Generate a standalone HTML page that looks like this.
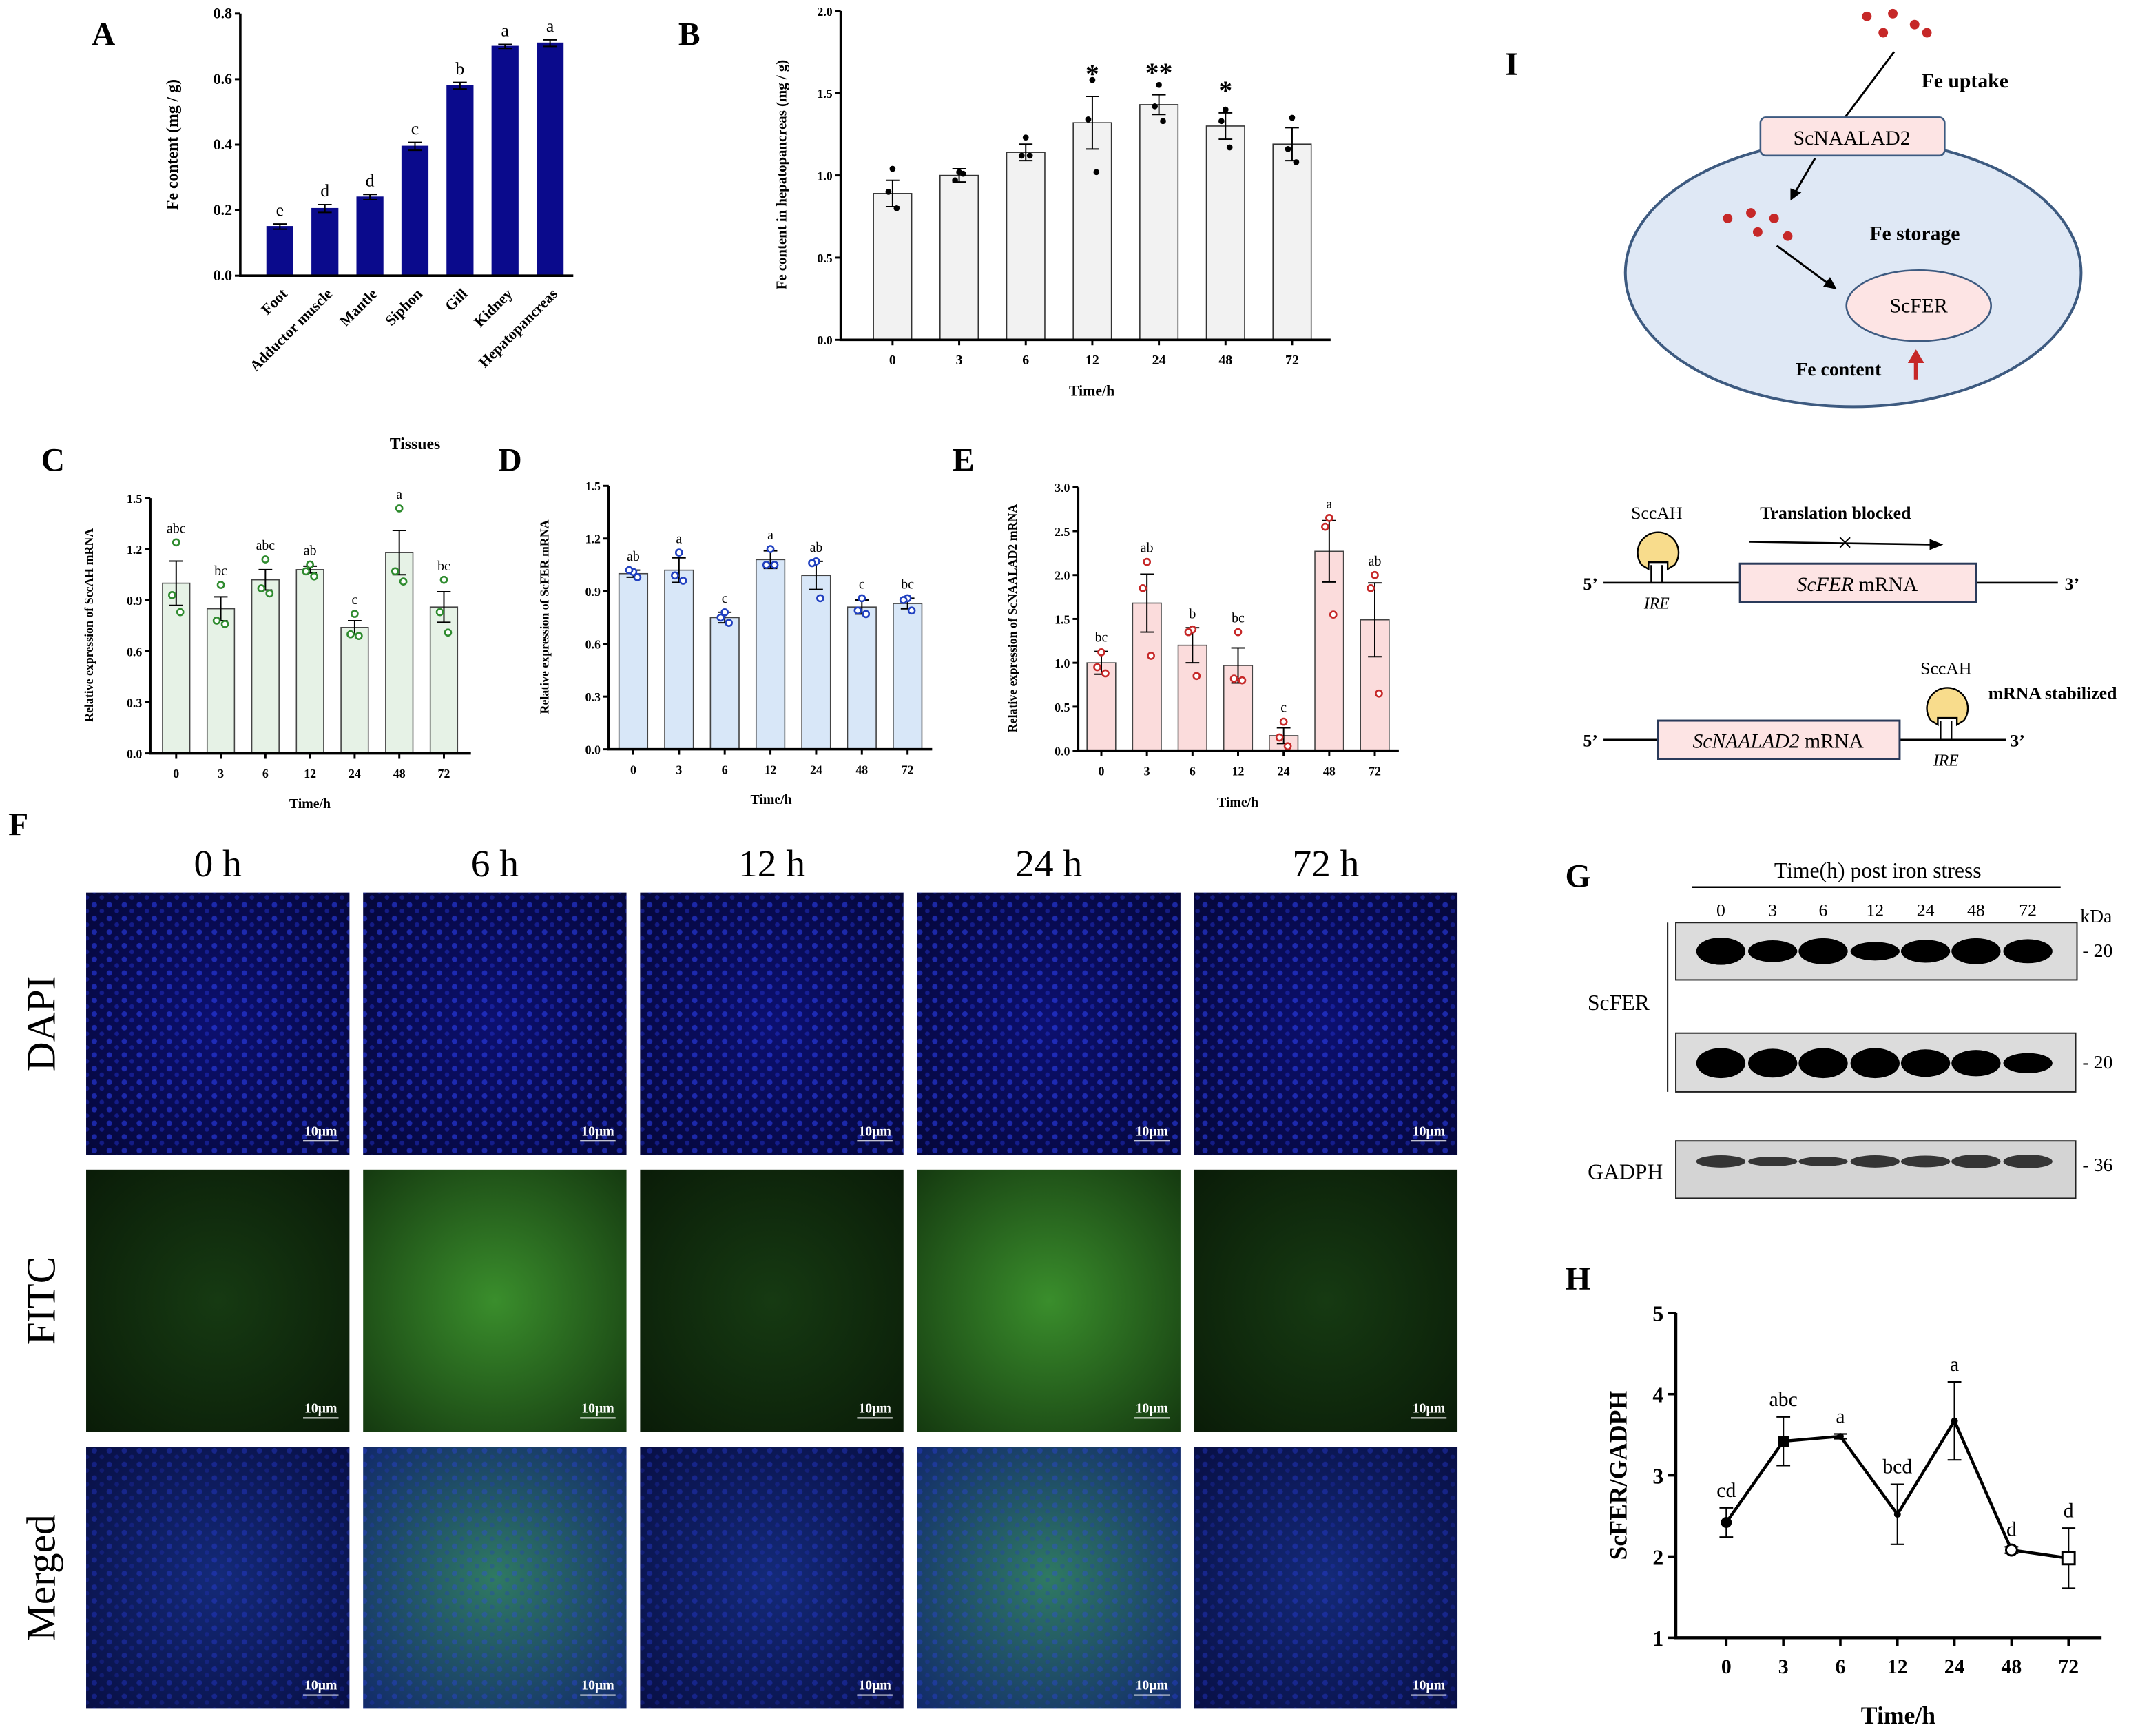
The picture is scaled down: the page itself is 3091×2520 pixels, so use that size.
<!DOCTYPE html>
<html><head><meta charset="utf-8"><style>
html,body{margin:0;padding:0;background:#fff}
svg{display:block}
text{font-family:"Liberation Serif",serif}
</style></head><body>
<svg id="fig" width="3091" height="2520" viewBox="0 0 1560 1272" xmlns="http://www.w3.org/2000/svg">
<defs>
<radialGradient id="gDapi" cx="50%" cy="50%" r="70%"><stop offset="0" stop-color="#0c1070"/><stop offset="1" stop-color="#05073a"/></radialGradient>
<radialGradient id="gFitcLo" cx="50%" cy="50%" r="70%"><stop offset="0" stop-color="#163a12"/><stop offset="1" stop-color="#0a1c08"/></radialGradient>
<radialGradient id="gFitcHi" cx="50%" cy="50%" r="70%"><stop offset="0" stop-color="#3a8e2c"/><stop offset="1" stop-color="#153a10"/></radialGradient>
<radialGradient id="gMergeLo" cx="50%" cy="50%" r="70%"><stop offset="0" stop-color="#142a78"/><stop offset="1" stop-color="#080f45"/></radialGradient>
<radialGradient id="gMergeHi" cx="50%" cy="50%" r="70%"><stop offset="0" stop-color="#2f7a62"/><stop offset="1" stop-color="#122a6a"/></radialGradient>
<pattern id="nuc" width="11" height="10" patternUnits="userSpaceOnUse"><circle cx="3" cy="3" r="2" fill="#2f44ff" opacity="0.7"/><circle cx="8.5" cy="7.5" r="1.7" fill="#2434d8" opacity="0.6"/></pattern>
</defs>

<text x="67" y="33" font-size="24" font-weight="bold">A</text>
<text x="497" y="33" font-size="24" font-weight="bold">B</text>
<text x="30" y="345" font-size="24" font-weight="bold">C</text>
<text x="365" y="345" font-size="24" font-weight="bold">D</text>
<text x="698" y="345" font-size="24" font-weight="bold">E</text>
<text x="6" y="612" font-size="24" font-weight="bold">F</text>
<text x="1147" y="650" font-size="24" font-weight="bold">G</text>
<text x="1147" y="945" font-size="24" font-weight="bold">H</text>
<text x="1103" y="55" font-size="24" font-weight="bold">I</text>

<g id="charts"></g>

<g id="micro"></g>

<g>
<text x="1376" y="643" font-size="16" text-anchor="middle">Time(h) post iron stress</text>
<line x1="1240" y1="650" x2="1510" y2="650" stroke="#000" stroke-width="1.3"/>
<g font-size="13" text-anchor="middle">
<text x="1261" y="671">0</text><text x="1299" y="671">3</text><text x="1336" y="671">6</text><text x="1374" y="671">12</text><text x="1411" y="671">24</text><text x="1448" y="671">48</text><text x="1486" y="671">72</text>
</g>
<text x="1536" y="676" font-size="14" text-anchor="middle">kDa</text>
<line x1="1222" y1="676" x2="1222" y2="800" stroke="#000" stroke-width="1"/>
<text x="1186" y="740" font-size="16" text-anchor="middle">ScFER</text>
<text x="1191" y="864" font-size="16" text-anchor="middle">GADPH</text>
<rect x="1228" y="676" width="294" height="42" fill="#dcdcdc" stroke="#222" stroke-width="1"/>
<rect x="1228" y="757" width="293" height="43" fill="#dcdcdc" stroke="#222" stroke-width="1"/>
<rect x="1228" y="836" width="293" height="42" fill="#d4d4d4" stroke="#222" stroke-width="1"/>
<g id="bands"></g>
<g font-size="14"><text x="1526" y="701">- 20</text><text x="1526" y="783">- 20</text><text x="1526" y="858">- 36</text></g>
</g>

<g>
<ellipse cx="1358" cy="200" rx="167" ry="98" fill="#dfe8f5" stroke="#3d5a80" stroke-width="2"/>
<g fill="#c62828"><circle cx="1368" cy="12" r="3.5"/><circle cx="1387" cy="10" r="3.5"/><circle cx="1380" cy="24" r="3.5"/><circle cx="1403" cy="18" r="3.5"/><circle cx="1412" cy="24" r="3.5"/>
<circle cx="1266" cy="160" r="3.5"/><circle cx="1283" cy="156" r="3.5"/><circle cx="1300" cy="160" r="3.5"/><circle cx="1288" cy="170" r="3.5"/><circle cx="1310" cy="173" r="3.5"/></g>
<line x1="1388" y1="38" x2="1352" y2="86" stroke="#000" stroke-width="1.5"/>
<text x="1408" y="64" font-size="15" font-weight="bold">Fe uptake</text>
<rect x="1290" y="86" width="135" height="28" rx="4" fill="#fde4e4" stroke="#3d5a80" stroke-width="1.3"/>
<text x="1357" y="106" font-size="15" text-anchor="middle">ScNAALAD2</text>
<line x1="1330" y1="116" x2="1316" y2="140" stroke="#000" stroke-width="1.5"/><polygon points="1312,147 1312,138 1320,141" fill="#000"/>
<text x="1370" y="176" font-size="15" font-weight="bold">Fe storage</text>
<line x1="1302" y1="180" x2="1340" y2="208" stroke="#000" stroke-width="1.5"/><polygon points="1346,212 1336,210 1341,203" fill="#000"/>
<ellipse cx="1406" cy="224" rx="53" ry="26" fill="#fde4e4" stroke="#3d5a80" stroke-width="1.3"/>
<text x="1406" y="229" font-size="15" text-anchor="middle">ScFER</text>
<text x="1316" y="275" font-size="14" font-weight="bold">Fe content</text>
<line x1="1404" y1="278" x2="1404" y2="264" stroke="#c62828" stroke-width="3"/><polygon points="1398,266 1410,266 1404,256" fill="#c62828"/>

<text x="1214" y="380" font-size="13" text-anchor="middle">SccAH</text>
<text x="1345" y="380" font-size="13" font-weight="bold" text-anchor="middle">Translation blocked</text>
<line x1="1282" y1="397" x2="1415" y2="399" stroke="#000" stroke-width="1.3"/><polygon points="1424,399 1414,395 1414,403" fill="#000"/>
<text x="1352" y="404" font-size="20" text-anchor="middle">×</text>
<text x="1160" y="432" font-size="13" font-weight="bold">5’</text>
<line x1="1175" y1="427" x2="1275" y2="427" stroke="#000" stroke-width="1.3"/>
<line x1="1448" y1="427" x2="1508" y2="427" stroke="#000" stroke-width="1.3"/>
<text x="1513" y="432" font-size="13" font-weight="bold">3’</text>
<path d="M1203 414 a15 15 0 1 1 24 0 l-5 3 v-5 h-14 v5 z" fill="#f8dc8c" stroke="#000" stroke-width="1.2"/>
<path d="M1210 427 V414 M1218 414 V427" fill="none" stroke="#000" stroke-width="1.2"/>
<text x="1214" y="446" font-size="12" font-style="italic" text-anchor="middle">IRE</text>
<rect x="1275" y="413" width="173" height="28" fill="#fde4e4" stroke="#2a3a5a" stroke-width="1.5"/>
<text x="1361" y="433" font-size="15" text-anchor="middle"><tspan font-style="italic">ScFER</tspan> mRNA</text>

<text x="1426" y="494" font-size="13" text-anchor="middle">SccAH</text>
<text x="1457" y="512" font-size="13" font-weight="bold">mRNA stabilized</text>
<text x="1160" y="547" font-size="13" font-weight="bold">5’</text>
<line x1="1175" y1="542" x2="1215" y2="542" stroke="#000" stroke-width="1.3"/>
<line x1="1392" y1="542" x2="1470" y2="542" stroke="#000" stroke-width="1.3"/>
<text x="1473" y="547" font-size="13" font-weight="bold">3’</text>
<path d="M1415 528 a15 15 0 1 1 24 0 l-5 3 v-5 h-14 v5 z" fill="#f8dc8c" stroke="#000" stroke-width="1.2"/>
<path d="M1422 542 V528 M1430 528 V542" fill="none" stroke="#000" stroke-width="1.2"/>
<text x="1426" y="561" font-size="12" font-style="italic" text-anchor="middle">IRE</text>
<rect x="1215" y="528" width="177" height="28" fill="#fde4e4" stroke="#2a3a5a" stroke-width="1.5"/>
<text x="1303" y="548" font-size="15" text-anchor="middle"><tspan font-style="italic">ScNAALAD2</tspan> mRNA</text>
</g>

<script>
// ---- Panel A data ----
const aCats = ["Foot","Adductor muscle","Mantle","Siphon","Gill","Kidney","Hepatopancreas"];
const aVals = [0.15,0.205,0.24,0.395,0.58,0.70,0.71];
const aErrs = [0.008,0.012,0.008,0.012,0.01,0.006,0.01];
const aLetters = ["e","d","d","c","b","a","a"];
const aTicks = [0,0.2,0.4,0.6,0.8];
// ---- Panel B data ----
const bCats = ["0","3","6","12","24","48","72"];
const bVals = [0.89,1.0,1.14,1.32,1.43,1.30,1.19];
const bErrs = [0.08,0.04,0.05,0.16,0.06,0.08,0.10];
const bDots = [[1.04,0.90,0.80],[1.02,0.97,1.01],[1.23,1.12,1.12],[1.58,1.34,1.02],[1.55,1.42,1.33],[1.40,1.33,1.17],[1.35,1.16,1.08]];
const bStars = ["","","","*","**","*",""];
const bTicks = [0,0.5,1.0,1.5,2.0];
// ---- Panel C data ----
const tCats = ["0","3","6","12","24","48","72"];
const cVals = [1.0,0.85,1.02,1.08,0.74,1.18,0.86];
const cErrs = [0.13,0.07,0.06,0.02,0.04,0.13,0.09];
const cDots = [[1.24,0.93,0.83],[0.99,0.78,0.76],[1.14,0.97,0.94],[1.11,1.07,1.04],[0.82,0.70,0.69],[1.44,1.07,1.01],[1.02,0.83,0.71]];
const cLetters = ["abc","bc","abc","ab","c","a","bc"];
const cTicks = [0,0.3,0.6,0.9,1.2,1.5];
// ---- Panel D data ----
const dVals = [1.0,1.02,0.75,1.08,0.99,0.81,0.83];
const dErrs = [0.02,0.07,0.03,0.05,0.08,0.04,0.03];
const dDots = [[1.01,1.02,0.98],[1.12,0.99,0.96],[0.78,0.75,0.72],[1.14,1.05,1.05],[1.07,1.06,0.86],[0.86,0.79,0.77],[0.86,0.85,0.79]];
const dLetters = ["ab","a","c","a","ab","c","bc"];
const dTicks = [0,0.3,0.6,0.9,1.2,1.5];
// ---- Panel E data ----
const eVals = [1.0,1.68,1.2,0.97,0.17,2.27,1.49];
const eErrs = [0.13,0.33,0.2,0.2,0.09,0.35,0.42];
const eDots = [[1.12,0.95,0.88],[2.15,1.85,1.08],[1.38,1.35,0.85],[1.35,0.82,0.80],[0.33,0.15,0.05],[2.65,2.55,1.55],[2.0,1.85,0.65]];
const eLetters = ["bc","ab","b","bc","c","a","ab"];
const eTicks = [0,0.5,1.0,1.5,2.0,2.5,3.0];
// ---- Panel H data ----
const hCats = ["0","3","6","12","24","48","72"];
const hVals = [2.42,3.42,3.48,2.52,3.67,2.08,1.98];
const hErrs = [0.18,0.30,0.03,0.37,0.48,0.04,0.37];
const hLetters = ["cd","abc","a","bcd","a","d","d"];
const hTicks = [1,2,3,4,5];
// ---- Panel G band intensities ----
const g1 = [1.0,0.75,0.95,0.6,0.8,0.95,0.85];
const g2 = [1.0,0.95,1.0,1.0,0.9,0.85,0.6];
const g3 = [0.5,0.3,0.3,0.5,0.45,0.6,0.6];

const NS="http://www.w3.org/2000/svg";
const root=document.getElementById('charts');
function el(tag,attrs,parent,txt){const e=document.createElementNS(NS,tag);for(const k in attrs)e.setAttribute(k,attrs[k]);if(txt!==undefined)e.textContent=txt;(parent||root).appendChild(e);return e;}

function barChart(c,cats,vals,errs,dots,letters,ticks,fill,stroke,dotColor,tag){
  const g=el('g',{});
  
  
  const y=v=>c.y0-(v-ticks[0])/(ticks[ticks.length-1]-ticks[0])*(c.y0-c.y1);
  const x=i=>c.first+i*c.step;
  cats.forEach((cat,i)=>{
    const r=el('rect',{x:x(i)-c.bw/2,y:y(vals[i]),width:c.bw,height:y(0)-y(vals[i]),fill:fill,stroke:stroke,'stroke-width':0.8},g);
    
    
    const eb=el('path',{d:`M${x(i)} ${y(vals[i]-errs[i])}V${y(vals[i]+errs[i])}M${x(i)-5} ${y(vals[i]+errs[i])}h10M${x(i)-5} ${y(vals[i]-errs[i])}h10`,stroke:'#000','stroke-width':1,fill:'none'},g);
    
    
    if(dots){dots[i].forEach((d,j)=>{const off=[0,-3,3][j];const p=el('circle',{cx:x(i)+off,cy:y(d),r:c.dotFill?2.2:2.3,fill:c.dotFill?dotColor:'#fff',stroke:dotColor,'stroke-width':c.dotFill?0:1.3},g);
      
      });}
    if(letters&&letters[i]){const top=Math.max(vals[i]+errs[i],dots?Math.max(...dots[i]):0);
      const t=el('text',{x:x(i),y:y(top)-c.lpad,'font-size':c.lfs,'text-anchor':'middle'},g,letters[i]);
      
      }
    if(!c.rotate){const t=el('text',{x:x(i),y:c.y0+c.tickOff,'font-size':c.tfs,'font-weight':'bold','text-anchor':'middle'},g,cat);
      
      
      el('line',{x1:x(i),y1:c.y0,x2:x(i),y2:c.y0+4,stroke:'#000','stroke-width':1.5},g);}
    else{const t=el('text',{x:x(i)+6,y:c.y0+14,'font-size':c.tfs,'font-weight':'bold','text-anchor':'end',transform:`rotate(-45 ${x(i)+6} ${c.y0+14})`},g,cat);
      
      }
  });
  ticks.forEach(tv=>{el('line',{x1:c.ax-4,y1:y(tv),x2:c.ax,y2:y(tv),stroke:'#000','stroke-width':1.5},g);
    const t=el('text',{x:c.ax-6,y:y(tv)+3.5,'font-size':c.yfs,'font-weight':'bold','text-anchor':'end'},g,tv.toFixed(c.dec));
    
    });
  const ax=el('path',{d:`M${c.ax} ${c.y1}V${c.y0}H${c.xEnd}`,stroke:'#000','stroke-width':1.8,fill:'none'},g);
  
  
  return {g,y,x};
}

const A=barChart({ax:176,y0:202,y1:10,first:205,step:33,bw:19,xEnd:420,tfs:11,yfs:11,dec:1,lfs:13,lpad:6,rotate:true},aCats,aVals,aErrs,null,aLetters,aTicks,'#0a0a8c','#0a0a8c','#000','a');
el('text',{x:130,y:106,'font-size':12,'font-weight':'bold','text-anchor':'middle',transform:'rotate(-90 130 106)'},A.g,'Fe content (mg / g)');
el('text',{x:304,y:329,'font-size':12,'font-weight':'bold','text-anchor':'middle'},A.g,'Tissues');
const B=barChart({ax:616,y0:249,y1:8,first:654,step:48.8,bw:28,xEnd:975,tfs:10,yfs:9,dec:1,lfs:12,lpad:6,tickOff:18,dotFill:true},bCats,bVals,bErrs,bDots,null,bTicks,'#f2f2f2','#333','#000','b');
bStars.forEach((s,i)=>{if(s){const t=el('text',{x:B.x(i),y:B.y(bVals[i]+bErrs[i])-10,'font-size':20,'font-weight':'bold','text-anchor':'middle'},B.g,s);
  
  }});
el('text',{x:576,y:128,'font-size':10.5,'font-weight':'bold','text-anchor':'middle',transform:'rotate(-90 576 128)'},B.g,'Fe content in hepatopancreas (mg / g)');
el('text',{x:800,y:290,'font-size':11,'font-weight':'bold','text-anchor':'middle'},B.g,'Time/h');
const C=barChart({ax:110,y0:552,y1:365,first:129,step:32.7,bw:20,xEnd:345,tfs:9,yfs:9,dec:1,lfs:10,lpad:7,tickOff:18},tCats,cVals,cErrs,cDots,cLetters,cTicks,'#e6f2e6','#444','#2e8b2e','c');
el('text',{x:68,y:458,'font-size':9,'font-weight':'bold','text-anchor':'middle',transform:'rotate(-90 68 458)'},C.g,'Relative expression of SccAH mRNA');
el('text',{x:227,y:592,'font-size':10,'font-weight':'bold','text-anchor':'middle'},C.g,'Time/h');
const D=barChart({ax:446,y0:549,y1:356,first:464,step:33.5,bw:21,xEnd:683,tfs:9,yfs:9,dec:1,lfs:10,lpad:7,tickOff:18},tCats,dVals,dErrs,dDots,dLetters,dTicks,'#d8e7f8','#444','#2040c0','d');
el('text',{x:402,y:452,'font-size':9,'font-weight':'bold','text-anchor':'middle',transform:'rotate(-90 402 452)'},D.g,'Relative expression of ScFER mRNA');
el('text',{x:565,y:589,'font-size':10,'font-weight':'bold','text-anchor':'middle'},D.g,'Time/h');
const E=barChart({ax:790,y0:550,y1:357,first:807,step:33.4,bw:21,xEnd:1025,tfs:9,yfs:9,dec:1,lfs:10,lpad:7,tickOff:18},tCats,eVals,eErrs,eDots,eLetters,eTicks,'#fbdcdc','#444','#c62828','e');
el('text',{x:745,y:453,'font-size':9,'font-weight':'bold','text-anchor':'middle',transform:'rotate(-90 745 453)'},E.g,'Relative expression of ScNAALAD2 mRNA');
el('text',{x:907,y:591,'font-size':10,'font-weight':'bold','text-anchor':'middle'},E.g,'Time/h');

(function(){
  const g=el('g',{});
  
  
  const ax0=1228,y0=1200,y1=962,first=1265,step=41.8,xEnd=1540;
  const y=v=>y0-(v-hTicks[0])/(hTicks[hTicks.length-1]-hTicks[0])*(y0-y1);
  const x=i=>first+i*step;
  const line=el('polyline',{points:hVals.map((v,i)=>x(i)+','+y(v)).join(' '),fill:'none',stroke:'#000','stroke-width':2.2},g);
  
  
  hCats.forEach((c,i)=>{
    const v=hVals[i],e=hErrs[i];
    el('path',{d:`M${x(i)} ${y(v-e)}V${y(v+e)}M${x(i)-5} ${y(v+e)}h10M${x(i)-5} ${y(v-e)}h10`,stroke:'#000','stroke-width':1.1,fill:'none'},g);
    let m;
    if(i===0) m=el('circle',{cx:x(i),cy:y(v),r:4,fill:'#000'},g);
    else if(i===1) m=el('rect',{x:x(i)-4,y:y(v)-4,width:8,height:8,fill:'#000'},g);
    else if(i===5) m=el('circle',{cx:x(i),cy:y(v),r:4,fill:'#fff',stroke:'#000','stroke-width':1.5},g);
    else if(i===6) m=el('rect',{x:x(i)-4.5,y:y(v)-4.5,width:9,height:9,fill:'#fff',stroke:'#000','stroke-width':1.5},g);
    else m=el('circle',{cx:x(i),cy:y(v),r:2.5,fill:'#000'},g);
    
    
    const lt=el('text',{x:x(i),y:y(v+e)-8,'font-size':15,'text-anchor':'middle'},g,hLetters[i]);
    
    
    el('line',{x1:x(i),y1:y0,x2:x(i),y2:y0+6,stroke:'#000','stroke-width':1.8},g);
    const t=el('text',{x:x(i),y:y0+26,'font-size':15,'font-weight':'bold','text-anchor':'middle'},g,c);
    
    
  });
  hTicks.forEach(tv=>{el('line',{x1:ax0-6,y1:y(tv),x2:ax0,y2:y(tv),stroke:'#000','stroke-width':1.8},g);
    const t=el('text',{x:ax0-9,y:y(tv)+6,'font-size':16,'font-weight':'bold','text-anchor':'end'},g,String(tv));
    
    });
  el('path',{d:`M${ax0} ${y1}V${y0}H${xEnd}`,stroke:'#000','stroke-width':2.2,fill:'none'},g);
  const yl=el('text',{x:1192,y:1081,'font-size':18,'font-weight':'bold','text-anchor':'middle',transform:'rotate(-90 1192 1081)'},g,'ScFER/GADPH');
  
  
  const xl=el('text',{x:1391,y:1263,'font-size':18,'font-weight':'bold','text-anchor':'middle'},g,'Time/h');
  
  
})();

(function(){
  const b=document.getElementById('bands');
  const lx=[1261,1299,1336,1374,1411,1448,1486];
  [[g1,697,16],[g2,779,18],[g3,851,10]].forEach(([arr,cy,h],row)=>{
    arr.forEach((v,i)=>{const e=el('ellipse',{cx:lx[i],cy:cy,rx:18,ry:h*v/2+2,fill:'#000',opacity:row===2?0.75:1},b);
      
      });
  });
})();

(function(){
  const m=document.getElementById('micro');
  const xs=[63,266,469,672,875], ys=[654,857,1060], w=193, h=192;
  const heads=["0 h","6 h","12 h","24 h","72 h"];
  const rows=["DAPI","FITC","Merged"];
  heads.forEach((t,i)=>{const e=el('text',{x:xs[i]+w/2,y:642,'font-size':28,'text-anchor':'middle'},m,t);
    
    });
  rows.forEach((t,j)=>{const cy=ys[j]+h/2;const e=el('text',{x:40,y:cy,'font-size':30,'text-anchor':'middle',transform:`rotate(-90 40 ${cy})`},m,t);
    
    });
  const hi=[false,true,false,true,false];
  rows.forEach((r,j)=>xs.forEach((x,i)=>{
    let f = j===0?'url(#gDapi)': j===1?(hi[i]?'url(#gFitcHi)':'url(#gFitcLo)'):(hi[i]?'url(#gMergeHi)':'url(#gMergeLo)');
    const rc=el('rect',{x:x,y:ys[j],width:w,height:h,fill:f},m);
    
    
    if(j!==1) el('rect',{x:x,y:ys[j],width:w,height:h,fill:'url(#nuc)',opacity:j===0?0.75:0.45},m);
    el('line',{x1:x+w-34,y1:ys[j]+h-10,x2:x+w-8,y2:ys[j]+h-10,stroke:'#fff','stroke-width':1},m);
    el('text',{x:x+w-21,y:ys[j]+h-14,'font-size':10,'font-weight':'bold',fill:'#fff','text-anchor':'middle'},m,'10μm');
  }));
})();
</script>
</svg>
</body></html>
